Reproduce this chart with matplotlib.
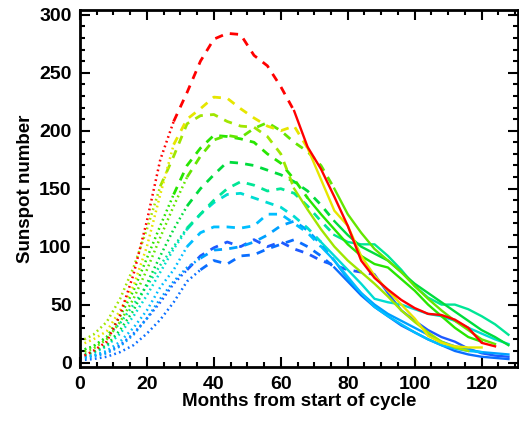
import numpy as np
import matplotlib
matplotlib.use('Agg')
import matplotlib.pyplot as plt
from matplotlib.ticker import MultipleLocator

# Smoothed sunspot number per cycle, sampled every 4 months from cycle start
step = 4
cycle_red = [4, 10, 18, 41, 76, 122, 175, 208, 233, 260, 279, 284, 283, 265, 256, 238, 217, 186,
             167, 143, 118, 88, 73, 63, 54, 47, 42, 41, 37, 30, 17, 14]
cycle_yellow = [15, 20, 27, 45, 66, 100, 145, 188, 210, 219, 229, 228, 219, 211, 204, 200, 204, 185,
                158, 131, 118, 92, 75, 62, 50, 38, 23, 17, 14, 13, 13]
cycle_ygreen = [18, 24, 35, 55, 82, 115, 152, 178, 206, 213, 214, 208, 204, 203, 195, 180, 150, 132,
                115, 100, 88, 78, 68, 57, 45, 35, 26, 18, 13, 10]
cycle_lime = [8, 12, 20, 35, 55, 80, 108, 135, 160, 178, 192, 196, 194, 202, 207, 200, 190, 182,
              170, 150, 128, 112, 98, 88, 78, 66, 55, 45, 36, 28, 20, 16]
cycle_green = [10, 14, 22, 40, 62, 90, 118, 145, 170, 185, 196, 195, 193, 190, 180, 172, 158, 142,
               128, 115, 102, 92, 85, 82, 72, 62, 50, 40, 30, 22, 18]
cycle_green2 = [6, 9, 15, 28, 45, 68, 92, 115, 135, 150, 162, 173, 172, 170, 166, 162, 156, 148,
                136, 122, 110, 100, 94, 88, 78, 68, 60, 52, 44, 36, 28, 22, 15]
cycle_teal = [10, 14, 22, 34, 50, 66, 84, 100, 116, 128, 140, 150, 156, 153, 148, 150, 146, 135,
              122, 110, 104, 102, 102, 92, 80, 66, 56, 50, 50, 46, 40, 33, 24]
cycle_cyan = [5, 8, 14, 25, 40, 58, 78, 98, 115, 128, 138, 145, 146, 142, 138, 134, 126, 116,
              104, 92, 80, 68, 55, 52, 50, 46, 42, 40, 36, 30, 25, 20, 16]
cycle_ltblue = [4, 6, 10, 18, 30, 45, 65, 80, 100, 112, 117, 117, 116, 118, 128, 128, 120, 112,
                100, 88, 74, 60, 48, 40, 33, 26, 20, 15, 12, 10, 9]
cycle_skyblue = [3, 5, 8, 14, 24, 38, 55, 70, 82, 90, 97, 98, 100, 104, 110, 118, 122, 114,
                 102, 88, 72, 60, 50, 42, 36, 30, 24, 18, 14, 11, 9, 8, 7]
cycle_blue = [2, 3, 5, 9, 15, 25, 37, 52, 70, 80, 88, 85, 92, 93, 98, 102, 106, 100,
              92, 82, 70, 58, 48, 40, 32, 26, 20, 15, 10, 7, 5, 4, 3]
cycle_blue2 = [4, 6, 9, 15, 25, 38, 52, 68, 80, 92, 99, 104, 100, 106, 100, 104, 98, 94,
               88, 84, 80, 78, 76, 60, 45, 36, 28, 22, 18, 12, 8, 6, 5]

cycles = [cycle_blue2, cycle_blue, cycle_skyblue, cycle_ltblue, cycle_cyan, cycle_teal,
          cycle_green2, cycle_green, cycle_lime, cycle_ygreen, cycle_yellow, cycle_red]
colors = ['#1e5aff', '#0a6eff', '#00a0ff', '#00beff', '#00dcd2', '#00e696',
          '#00dc3c', '#28e600', '#64e600', '#a0e600', '#e6e600', '#ff0000']

plt.rcParams['font.family'] = ['Liberation Sans', 'DejaVu Sans']
plt.rcParams['font.weight'] = 'bold'

fig = plt.figure(figsize=(5.19, 4.24), dpi=100)
ax = fig.add_axes([0.154, 0.134, 0.845, 0.842])

for vals, col in zip(cycles, colors):
    v = np.array(vals, dtype=float)
    m = np.arange(len(v)) * step
    # rise (dotted), near maximum (dashed), decline (solid)
    above = np.where(v >= 0.7 * v.max())[0]
    i1, i2 = above[0], above[-1]
    ax.plot(m[:i1 + 1], v[:i1 + 1], color=col, lw=1.8, linestyle=(0, (0.7, 1.3)))
    ax.plot(m[i1:i2 + 1], v[i1:i2 + 1], color=col, lw=2.0, linestyle=(0, (3, 2.6)))
    ax.plot(m[i2:], v[i2:], color=col, lw=1.7, linestyle='-')

ax.set_xlim(0, 131)
ax.set_ylim(-4, 304)
ax.xaxis.set_major_locator(MultipleLocator(20))
ax.xaxis.set_minor_locator(MultipleLocator(5))
ax.yaxis.set_major_locator(MultipleLocator(50))
ax.yaxis.set_minor_locator(MultipleLocator(10))
ax.tick_params(which='both', direction='in', top=True, right=True, width=1.5, labelsize=14)
ax.tick_params(which='major', length=7, pad=6)
ax.tick_params(which='minor', length=3.5)
for s in ax.spines.values():
    s.set_linewidth(2)
for lab in ax.get_xticklabels() + ax.get_yticklabels():
    lab.set_fontweight('bold')

ax.set_xlabel('Months from start of cycle', fontsize=13.5, fontweight='bold', labelpad=0)
ax.set_ylabel('Sunspot number', fontsize=13.5, fontweight='bold', labelpad=4)

fig.savefig('out.png', dpi=100)
